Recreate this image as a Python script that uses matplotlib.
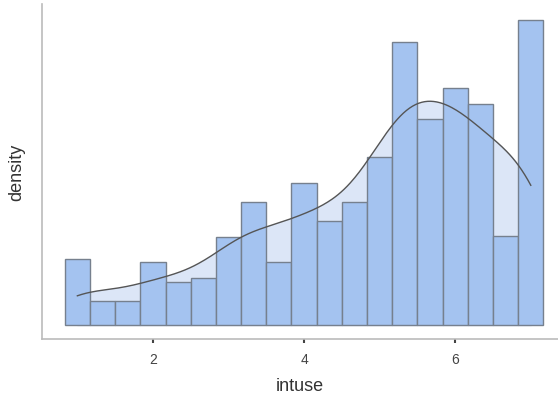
import numpy as np
import matplotlib.pyplot as plt

plt.rcParams['font.family'] = ['Liberation Sans', 'DejaVu Sans']

# intuse values sit on a 1/3 grid from 1 to 7; bar heights
bin_centers = np.arange(1, 7.01, 1 / 3)
bin_heights = [66, 24, 24, 63, 43, 47, 88, 123, 63, 142,
               104, 123, 168, 283, 206, 237, 221, 89, 305]
x_ticks = [2, 4, 6]

width = 1 / 3
heights = np.array(bin_heights, dtype=float)
density = heights / (heights.sum() * width)

# weighted gaussian kde over the same values, cut at the data range
bw = 0.44
grid = np.linspace(bin_centers.min(), bin_centers.max(), 300)
w = heights / heights.sum()
kde = (w[None, :] * np.exp(-0.5 * ((grid[:, None] - bin_centers[None, :]) / bw) ** 2)).sum(axis=1)
kde /= bw * np.sqrt(2 * np.pi)

fig, ax = plt.subplots(figsize=(5.58, 4.02), dpi=100)
fig.subplots_adjust(left=0.075, right=1.0, bottom=0.154, top=0.988)

ax.fill_between(grid, 0, kde, color='#dce6f7', zorder=1)
ax.bar(bin_centers, density, width=width, color='#a4c3f0',
       edgecolor='#76808e', linewidth=1.0, zorder=2)
ax.plot(grid, kde, color='#555555', linewidth=1.0, zorder=3)

scale = heights.sum() * width  # px per density unit
ax.set_xlim(0.53, 7.36)
ax.set_ylim(-14 / scale, 321 / scale)
ax.set_xticks(x_ticks)
ax.set_yticks([])
ax.tick_params(axis='x', length=3, width=1.5, color='#444444',
               labelsize=10, labelcolor='#444444', pad=6)
for s in ['top', 'right']:
    ax.spines[s].set_visible(False)
for s in ['left', 'bottom']:
    ax.spines[s].set_color('#bbbbbb')
    ax.spines[s].set_linewidth(1.2)

ax.set_xlabel('intuse', fontsize=13, color='#333333', labelpad=8)
ax.set_ylabel('density', fontsize=13, color='#333333', labelpad=12)

fig.savefig('out.png', dpi=100)
